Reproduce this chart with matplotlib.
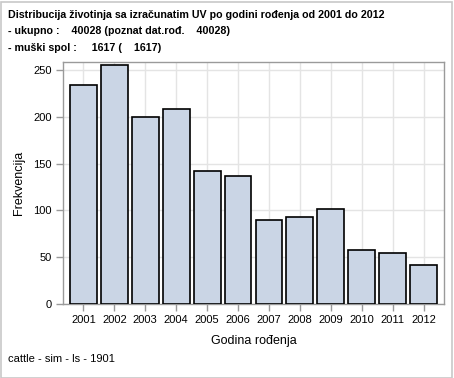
import matplotlib
matplotlib.use("Agg")
import matplotlib.pyplot as plt
from matplotlib.patches import Rectangle

years = ["2001", "2002", "2003", "2004", "2005", "2006", "2007", "2008", "2009", "2010", "2011", "2012"]
counts = [234, 255, 200, 208, 142, 137, 90, 93, 101, 58, 54, 42]
yticks = [0, 50, 100, 150, 200, 250]
title_lines = ["Distribucija životinja sa izračunatim UV po godini rođenja od 2001 do 2012",
               "- ukupno :    40028 (poznat dat.rođ.    40028)",
               "- muški spol :     1617 (    1617)"]
footnote = "cattle - sim - ls - 1901"

plt.rcParams['font.family'] = ['Liberation Sans', 'DejaVu Sans']

W, H = 454, 378
fig = plt.figure(figsize=(W / 100, H / 100), dpi=100)
fig.patch.set_facecolor("white")

# outer border
fig.add_artist(Rectangle((0.5 / W, 0.5 / H), (W - 3) / W, (H - 2) / H, transform=fig.transFigure,
                         fill=False, edgecolor="#C8C8C8", linewidth=1.2))

left, right, top, bottom = 63, 444, 61.5, 304
ax = fig.add_axes([left / W, 1 - bottom / H, (right - left) / W, (bottom - top) / H])

x = list(range(len(years)))
ax.bar(x, counts, width=0.87, color="#CAD5E5", edgecolor="black", linewidth=1.2, zorder=3)
ax.set_xlim(-0.66, len(years) - 1 + 0.66)
ax.set_ylim(0, 259)
ax.set_xticks(x)
ax.set_xticklabels(years, fontsize=8)
ax.set_yticks(yticks)
ax.set_yticklabels([str(v) for v in yticks], fontsize=8)
ax.grid(True, color="#E4E4E4", linewidth=1, zorder=0)
ax.set_axisbelow(True)
for s in ax.spines.values():
    s.set_color("#9A9A9A")
    s.set_linewidth(1)
ax.tick_params(axis="both", colors="#9A9A9A", labelcolor="black", length=5, width=1, pad=3)
ax.set_ylabel("Frekvencija", fontsize=9, labelpad=6)
ax.set_xlabel("Godina rođenja", fontsize=9, labelpad=7)

for i, line in enumerate(title_lines):
    fig.text(8 / W, 1 - (18 + 16.5 * i) / H, line, fontsize=7.7, fontweight="bold", ha="left", va="baseline")

fig.text(8 / W, 1 - 362 / H, footnote, fontsize=8, ha="left", va="baseline")

fig.savefig("out.png", dpi=100)
